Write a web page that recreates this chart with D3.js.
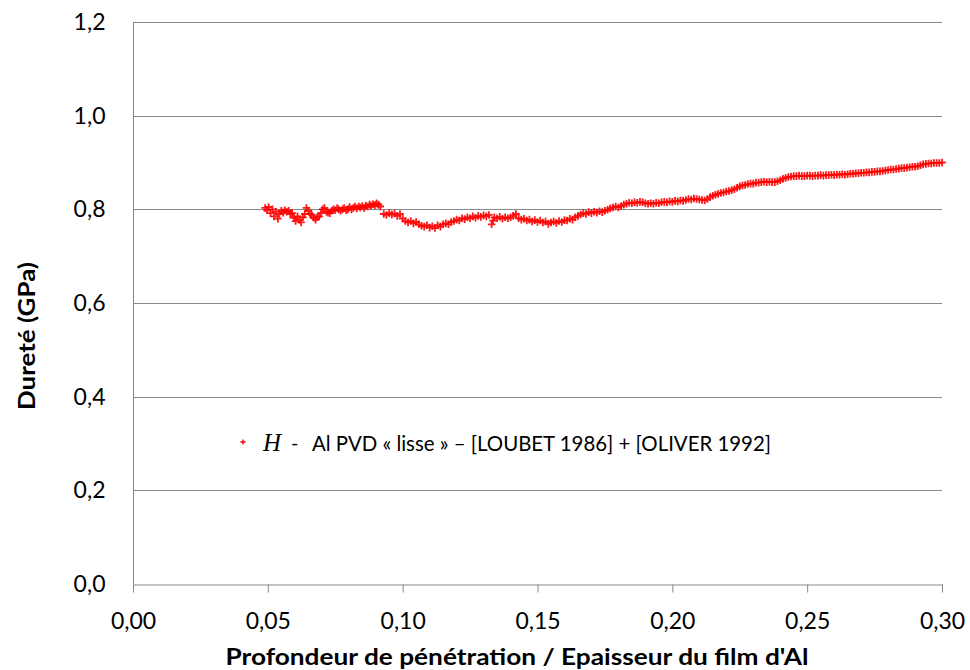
<!DOCTYPE html>
<html>
<head>
<meta charset="utf-8">
<script src="https://cdn.jsdelivr.net/npm/d3@7"></script>
<style>
  html, body { margin: 0; padding: 0; background: #ffffff; }
  svg { display: block; }
  text { font-family: Lato, "Open Sans", "Noto Sans", sans-serif; fill: #000; }
  text.serif { font-family: "Liberation Serif", "DejaVu Serif", serif; }
</style>
</head>
<body>
<svg id="chart" width="970" height="670"></svg>
<script>
// ---- Data ----
const depthRatio = [
  0.0490,0.0497,0.0503,0.0510,0.0517,0.0523,0.0530,0.0537,0.0543,0.0550,
  0.0557,0.0563,0.0570,0.0577,0.0583,0.0590,0.0597,0.0603,0.0610,0.0617,
  0.0623,0.0630,0.0637,0.0643,0.0650,0.0657,0.0663,0.0670,0.0677,0.0683,
  0.0690,0.0697,0.0703,0.0710,0.0717,0.0723,0.0730,0.0737,0.0743,0.0750,
  0.0757,0.0763,0.0770,0.0777,0.0783,0.0790,0.0797,0.0803,0.0810,0.0817,
  0.0823,0.0830,0.0837,0.0843,0.0850,0.0857,0.0863,0.0870,0.0877,0.0883,
  0.0890,0.0897,0.0903,0.0910,0.0917,
  0.0930,0.0940,0.0950,0.0960,0.0970,0.0980,0.0990,
  0.1000,0.1010,0.1020,0.1030,0.1040,0.1050,0.1060,0.1070,0.1080,0.1090,
  0.1100,0.1110,0.1120,0.1130,0.1140,0.1150,0.1160,0.1170,0.1180,0.1190,
  0.1200,0.1210,0.1220,0.1230,0.1240,0.1250,0.1260,0.1270,0.1280,0.1290,
  0.1300,0.1310,0.1320,0.1330,0.1335,0.1340,0.1350,0.1360,0.1370,0.1380,
  0.1390,0.1400,0.1410,0.1420,0.1430,0.1440,0.1450,0.1460,0.1470,0.1480,
  0.1490,0.1500,0.1510,0.1520,0.1530,0.1540,0.1550,0.1560,0.1570,0.1580,
  0.1590,0.1600,0.1610,0.1620,0.1630,0.1640,0.1650,0.1660,0.1670,0.1680,
  0.1690,0.1700,0.1710,0.1720,0.1730,0.1740,0.1750,0.1760,0.1770,0.1780,
  0.1790,0.1800,0.1810,0.1820,0.1830,0.1840,0.1850,0.1860,0.1870,0.1880,
  0.1890,0.1900,0.1910,0.1920,0.1930,0.1940,0.1950,0.1960,0.1970,0.1980,
  0.1990,0.2000,0.2010,0.2020,0.2030,0.2040,0.2050,0.2060,0.2070,0.2080,
  0.2090,0.2100,0.2110,0.2120,0.2130,0.2140,0.2150,0.2160,0.2170,0.2180,
  0.2190,0.2200,0.2210,0.2220,0.2230,0.2240,0.2250,0.2260,0.2270,0.2280,
  0.2290,0.2300,0.2310,0.2320,0.2330,0.2340,0.2350,0.2360,0.2370,0.2380,
  0.2390,0.2400,0.2410,0.2420,0.2430,0.2440,0.2450,0.2460,0.2470,0.2480,
  0.2490,0.2500,0.2510,0.2520,0.2530,0.2540,0.2550,0.2560,0.2570,0.2580,
  0.2590,0.2600,0.2610,0.2620,0.2630,0.2640,0.2650,0.2660,0.2670,0.2680,
  0.2690,0.2700,0.2710,0.2720,0.2730,0.2740,0.2750,0.2760,0.2770,0.2780,
  0.2790,0.2800,0.2810,0.2820,0.2830,0.2840,0.2850,0.2860,0.2870,0.2880,
  0.2890,0.2900,0.2910,0.2920,0.2930,0.2940,0.2950,0.2960,0.2970,0.2980,
  0.2990,0.3000
];
const hardnessGPa = [
  0.803,0.798,0.805,0.792,0.800,0.785,0.795,0.780,0.790,0.797,
  0.793,0.798,0.795,0.797,0.790,0.792,0.782,0.775,0.785,0.778,
  0.772,0.783,0.790,0.803,0.797,0.790,0.788,0.782,0.778,0.783,
  0.785,0.792,0.800,0.803,0.795,0.793,0.792,0.797,0.800,0.798,
  0.803,0.800,0.797,0.800,0.803,0.798,0.800,0.805,0.800,0.803,
  0.806,0.802,0.806,0.804,0.807,0.803,0.808,0.806,0.810,0.807,
  0.811,0.809,0.813,0.810,0.806,
  0.790,0.788,0.792,0.789,0.791,0.786,0.790,
  0.780,0.775,0.772,0.775,0.770,0.773,0.768,0.765,0.763,0.766,
  0.761,0.764,0.760,0.766,0.763,0.768,0.770,0.768,0.773,0.775,
  0.778,0.776,0.781,0.779,0.783,0.781,0.785,0.782,0.786,0.784,
  0.787,0.785,0.788,0.768,0.776,0.783,0.781,0.784,0.780,0.783,
  0.781,0.783,0.786,0.790,0.781,0.778,0.780,0.776,0.778,0.774,
  0.777,0.773,0.776,0.772,0.774,0.769,0.772,0.774,0.771,0.775,
  0.773,0.777,0.776,0.780,0.778,0.783,0.786,0.789,0.792,0.790,
  0.794,0.792,0.795,0.793,0.796,0.794,0.797,0.799,0.802,0.804,
  0.806,0.804,0.807,0.810,0.812,0.814,0.813,0.815,0.814,0.816,
  0.815,0.813,0.812,0.813,0.812,0.814,0.813,0.815,0.816,0.815,
  0.817,0.816,0.818,0.817,0.819,0.818,0.820,0.822,0.821,0.823,
  0.822,0.821,0.820,0.819,0.822,0.826,0.829,0.831,0.833,0.835,
  0.836,0.838,0.839,0.841,0.843,0.846,0.849,0.851,0.852,0.854,
  0.855,0.855,0.857,0.857,0.858,0.859,0.858,0.859,0.858,0.858,
  0.860,0.862,0.865,0.867,0.869,0.870,0.871,0.871,0.872,0.871,
  0.871,0.872,0.872,0.871,0.872,0.872,0.873,0.872,0.873,0.873,
  0.874,0.873,0.874,0.874,0.875,0.874,0.875,0.876,0.876,0.877,
  0.877,0.878,0.878,0.879,0.879,0.880,0.880,0.881,0.881,0.882,
  0.883,0.884,0.885,0.885,0.886,0.887,0.888,0.888,0.889,0.890,
  0.891,0.891,0.892,0.894,0.896,0.897,0.898,0.898,0.899,0.899,
  0.899,0.900
];
const xTicks = [0.00, 0.05, 0.10, 0.15, 0.20, 0.25, 0.30];
const yTicks = [0.0, 0.2, 0.4, 0.6, 0.8, 1.0, 1.2];
const xTitle = "Profondeur de pénétration / Epaisseur du film d'Al";
const yTitle = "Dureté (GPa)";
const legendSymbol = "H";
const legendLabel = "Al PVD « lisse » – [LOUBET 1986] + [OLIVER 1992]";

// ---- Layout ----
const svg = d3.select("#chart");
const plot = { left: 133, right: 942, top: 22, bottom: 584 };
const gridColor = "#888888";
const red = "#ff0000";

const x = d3.scaleLinear().domain([0, 0.30]).range([plot.left, plot.right]);
const y = d3.scaleLinear().domain([0, 1.2]).range([plot.bottom, plot.top]);
const comma = f => s => f(s).replace(".", ",");

// gridlines
svg.append("g")
  .selectAll("line")
  .data(yTicks.filter(v => v > 0))
  .join("line")
  .attr("x1", plot.left).attr("x2", plot.right)
  .attr("y1", d => Math.round(y(d)) + 0.5).attr("y2", d => Math.round(y(d)) + 0.5)
  .attr("stroke", gridColor).attr("stroke-width", 1);

// y axis
const yAxis = svg.append("g")
  .attr("transform", `translate(${plot.left + 0.5},0)`)
  .call(d3.axisLeft(y).tickValues(yTicks).tickSize(0).tickPadding(28)
        .tickFormat(comma(d3.format(".1f"))));
yAxis.select(".domain").attr("stroke", gridColor).attr("d", `M0,${plot.top}V${plot.bottom}`);
yAxis.selectAll("text").attr("font-size", 23).attr("font-family", null).attr("fill", "#000");

// x axis
const xAxis = svg.append("g")
  .attr("transform", `translate(0,${plot.bottom + 0.5})`)
  .call(d3.axisBottom(x).tickValues(xTicks).tickSizeInner(8).tickSizeOuter(0)
        .tickFormat(comma(d3.format(".2f"))));
xAxis.select(".domain").attr("stroke", gridColor);
xAxis.selectAll(".tick line").attr("stroke", gridColor);
xAxis.selectAll("text").attr("font-size", 23).attr("y", 28)
  .attr("font-family", null).attr("fill", "#000");

// data markers (+)
const pts = depthRatio.map((d, i) => ({ x: d, y: hardnessGPa[i] }));
const s = 3.8;
svg.append("g")
  .selectAll("path")
  .data(pts)
  .join("path")
  .attr("d", d => {
    const cx = x(d.x), cy = y(d.y);
    return `M${cx - s},${cy}H${cx + s}M${cx},${cy - s}V${cy + s}`;
  })
  .attr("stroke", red).attr("stroke-width", 1.8).attr("fill", "none")
  .attr("stroke-opacity", 0.9);

// axis titles
svg.append("text")
  .attr("x", 517).attr("y", 665)
  .attr("text-anchor", "middle")
  .attr("font-size", 22).attr("font-weight", "bold")
  .attr("textLength", 583).attr("lengthAdjust", "spacingAndGlyphs")
  .text(xTitle);

svg.append("text")
  .attr("transform", "translate(35,336) rotate(-90)")
  .attr("text-anchor", "middle")
  .attr("font-size", 22).attr("font-weight", "bold")
  .attr("textLength", 148).attr("lengthAdjust", "spacingAndGlyphs")
  .text(yTitle);

// legend
const lg = svg.append("g");
lg.append("path")
  .attr("d", `M${243 - 2.6},442H${243 + 2.6}M243,${442 - 2.6}V${442 + 2.6}`)
  .attr("stroke", red).attr("stroke-width", 1.4);
lg.append("text")
  .attr("class", "serif")
  .attr("x", 263).attr("y", 451)
  .attr("font-style", "italic").attr("font-size", 25)
  .text(legendSymbol);
lg.append("text")
  .attr("x", 291).attr("y", 450)
  .attr("font-size", 20)
  .text("-");
lg.append("text")
  .attr("x", 312).attr("y", 451)
  .attr("font-size", 21)
  .attr("textLength", 459).attr("lengthAdjust", "spacingAndGlyphs")
  .text(legendLabel);
</script>
</body>
</html>
